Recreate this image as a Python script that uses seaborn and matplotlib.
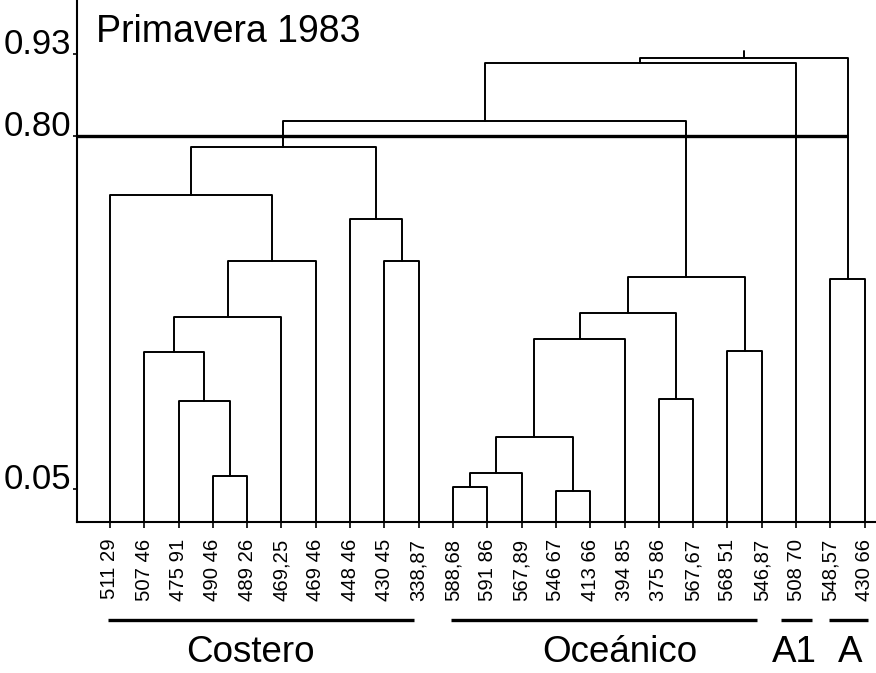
import numpy as np
import pandas as pd
import matplotlib
matplotlib.use("Agg")
import matplotlib.pyplot as plt
import matplotlib.transforms as mtransforms
import seaborn as sns

# ---------------- data ----------------
leaf_labels = ["511 29", "507 46", "475 91", "490 46", "489 26", "469,25", "469 46",
               "448 46", "430 45", "338,87",
               "588,68", "591 86", "567,89", "546 67", "413 66", "394 85", "375 86",
               "567,67", "568 51", "546,87",
               "508 70",
               "548,57", "430 66"]
group_names = ["Costero", "Oceánico", "A1", "A"]
group_sizes = [10, 10, 1, 2]

# merges: ids < 23 are leaves, id 23 + k is the k-th merge
merge_left = [3, 2, 1, 25, 26, 0, 8, 7, 28, 10, 32, 13, 33, 35, 16, 36, 18, 38, 31, 41, 21, 42]
merge_right = [4, 23, 24, 5, 6, 27, 9, 29, 30, 11, 12, 14, 34, 15, 17, 37, 19, 39, 40, 20, 22, 43]
merge_height = [46, 121, 170, 205, 261, 327, 261, 303, 375,
                35, 49, 31, 85, 183, 123, 209, 171, 245,
                401, 459, 243, 464]

tick_levels = [468, 386, 33]
tick_labels = ["0.93", "0.80", "0.05"]
cut_level = 386
title = "Primavera 1983"

# ---------------- build dendrogram segments ----------------
n = len(leaf_labels)
xs = list(range(n))
hs = [0.0] * n
rows = []
for k, (l, r, h) in enumerate(zip(merge_left, merge_right, merge_height)):
    for px, py in [(xs[l], hs[l]), (xs[l], h), (xs[r], h), (xs[r], hs[r])]:
        rows.append({"seg": k, "x": px, "y": py})
    xs.append((xs[l] + xs[r]) / 2)
    hs.append(h)
root = len(xs) - 1
stub = 7
rows.append({"seg": 999, "x": xs[root], "y": hs[root]})
rows.append({"seg": 999, "x": xs[root], "y": hs[root] + stub})
seg_df = pd.DataFrame(rows)

# ---------------- figure ----------------
sns.set_theme(style="white")
plt.rcParams["font.family"] = ["Liberation Sans", "DejaVu Sans"]

W, H = 876, 673
fig = plt.figure(figsize=(W / 100, H / 100), dpi=100)
ax = fig.add_axes([77 / W, 151 / H, 799 / W, 522 / H])

sns.lineplot(data=seg_df, x="x", y="y", units="seg", estimator=None, sort=False,
             color="black", linewidth=1.4, ax=ax, legend=False)

xlim = (-0.96, 22.33)
ax.set_xlim(*xlim)
ax.set_ylim(0, 522)

# cut line at 0.80, up to the rightmost cluster
right_cluster_x = xs[merge_right[-1]]
ax.plot([xlim[0], right_cluster_x], [cut_level, cut_level], color="black",
        linewidth=2.4, solid_capstyle="butt")

# axes styling
for s in ["top", "right"]:
    ax.spines[s].set_visible(False)
for s in ["left", "bottom"]:
    ax.spines[s].set_color("black")
    ax.spines[s].set_linewidth(1.5)

ax.set_xticks(range(n))
ax.set_xticklabels(leaf_labels, rotation=90, fontsize=14.6)
ax.set_yticks(tick_levels)
ax.set_yticklabels(tick_labels, fontsize=25)
ax.tick_params(axis="x", direction="out", length=4, width=1.2, pad=8, colors="black",
               bottom=True)
ax.tick_params(axis="y", direction="out", length=3, width=1.2, pad=1, colors="black",
               left=True)
for t in ax.get_yticklabels():
    t.set_verticalalignment("baseline")
ax.set_xlabel("")
ax.set_ylabel("")
ax.grid(False)

# title
fig.text(96 / W, 1 - 42 / H, title, fontsize=27, ha="left", va="baseline", color="black")

# group bars and names
trans = mtransforms.blended_transform_factory(ax.transData, fig.transFigure)
label_shift = [-0.3, 0.45, -0.05, 0.05]
start = 0
for name, size, dx in zip(group_names, group_sizes, label_shift):
    first, last = start, start + size - 1
    if size > 1:
        x0, x1 = first - 0.05, last - 0.15
    else:
        x0, x1 = first - 0.45, last + 0.45
    if name == "A":
        x1 = last + 0.1
    ax.plot([x0, x1], [1 - 620 / H] * 2, color="black", linewidth=2.4,
            transform=trans, clip_on=False, solid_capstyle="butt")
    ax.text((x0 + x1) / 2 + dx, 1 - 662 / H, name, fontsize=26.5, ha="center",
            va="baseline", transform=trans, color="black")
    start += size

fig.savefig("out.png", dpi=100)
